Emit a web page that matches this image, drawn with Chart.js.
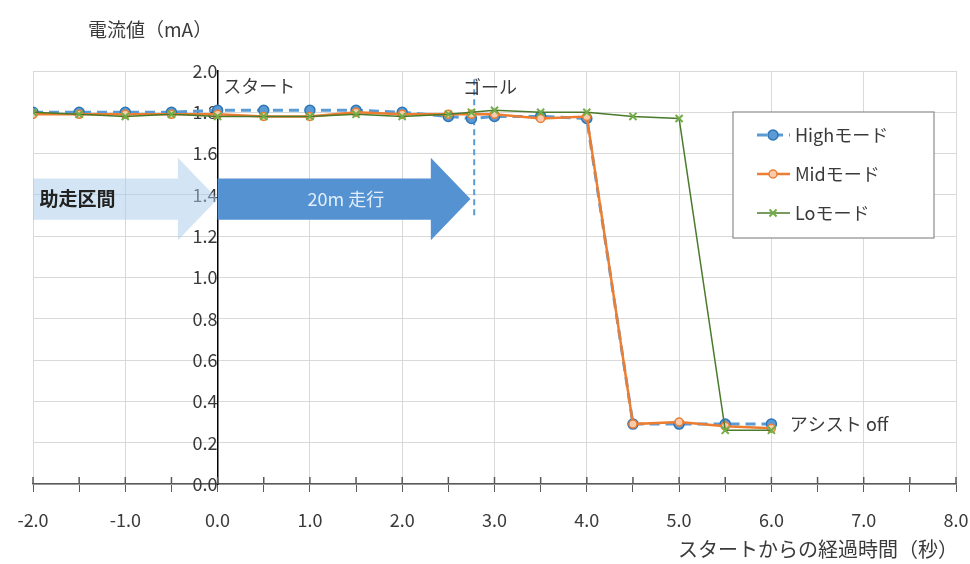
<!DOCTYPE html>
<html>
<head>
<meta charset="utf-8">
<script src="https://cdn.jsdelivr.net/npm/chart.js@4.4.1/dist/chart.umd.min.js"></script>
<style>
  html, body { margin: 0; padding: 0; background: #fff; }
  #wrap { width: 970px; height: 564px; position: relative; }
</style>
</head>
<body>
<div id="wrap"><canvas id="currentChart"></canvas></div>
<script>
// ---- DATA ----
const timeSec = [-2, -1.5, -1, -0.5, 0, 0.5, 1, 1.5, 2, 2.5, 2.75, 3, 3.5, 4, 4.5, 5, 5.5, 6];
const highMode = [1.80, 1.80, 1.80, 1.80, 1.81, 1.81, 1.81, 1.81, 1.80, 1.78, 1.77, 1.78, 1.78, 1.77, 0.29, 0.29, 0.29, 0.29];
const midMode  = [1.79, 1.79, 1.79, 1.79, 1.79, 1.78, 1.78, 1.80, 1.79, 1.79, 1.79, 1.79, 1.77, 1.78, 0.29, 0.30, 0.28, 0.27];
const loMode   = [1.80, 1.79, 1.78, 1.79, 1.78, 1.78, 1.78, 1.79, 1.78, 1.79, 1.80, 1.81, 1.80, 1.80, 1.78, 1.77, 0.26, 0.26];
const seriesNames = ['Highモード', 'Midモード', 'Loモード'];
const xMin = -2, xMax = 8, xStep = 0.5;
const yMin = 0, yMax = 2, yStep = 0.2;

// annotation positions (data units)
const runUpArrow = { from: -2, headAt: -0.43, to: 0, y: 1.38, shaft: 0.1, head: 0.2, label: '助走区間' };
const runArrow   = { from: 0, headAt: 2.31, to: 2.74, y: 1.38, shaft: 0.1, head: 0.2, label: '20m 走行' };
const goalX = 2.78;

const FONT = "'Noto Sans CJK JP', 'Noto Sans', sans-serif";
const TEXT = '#3a3a3a';

const toPoints = ys => timeSec.map((x, i) => ({ x, y: ys[i] }));

function drawArrow(ctx, xs, ys, a, fill) {
    const x0 = xs.getPixelForValue(a.from);
    const xh = xs.getPixelForValue(a.headAt);
    const x1 = xs.getPixelForValue(a.to);
    const yc = ys.getPixelForValue(a.y);
    const ySt = ys.getPixelForValue(a.y + a.shaft), ySb = ys.getPixelForValue(a.y - a.shaft);
    const yHt = ys.getPixelForValue(a.y + a.head), yHb = ys.getPixelForValue(a.y - a.head);
    ctx.beginPath();
    ctx.moveTo(x0, ySt);
    ctx.lineTo(xh, ySt);
    ctx.lineTo(xh, yHt);
    ctx.lineTo(x1, yc);
    ctx.lineTo(xh, yHb);
    ctx.lineTo(xh, ySb);
    ctx.lineTo(x0, ySb);
    ctx.closePath();
    ctx.fillStyle = fill;
    ctx.fill();
}

const decorPlugin = {
    id: 'decor',
    beforeDatasetsDraw(chart) {
        const { ctx, scales: { x, y } } = chart;
        ctx.save();
        drawArrow(ctx, x, y, runUpArrow, 'rgba(168, 203, 236, 0.5)');
        drawArrow(ctx, x, y, runArrow, '#5592d2');

        // arrow labels
        ctx.textBaseline = 'middle';
        ctx.font = `bold 19px ${FONT}`;
        ctx.fillStyle = '#222';
        ctx.textAlign = 'left';
        ctx.fillText(runUpArrow.label, x.getPixelForValue(-1.93), y.getPixelForValue(runUpArrow.y));
        ctx.font = `18px ${FONT}`;
        ctx.fillStyle = '#e4eef9';
        ctx.textAlign = 'center';
        ctx.fillText(runArrow.label, x.getPixelForValue(1.39), y.getPixelForValue(runArrow.y));

        // goal dashed line
        ctx.beginPath();
        ctx.setLineDash([6, 4]);
        ctx.strokeStyle = '#5B9BD5';
        ctx.lineWidth = 2;
        ctx.moveTo(x.getPixelForValue(goalX), y.getPixelForValue(1.96));
        ctx.lineTo(x.getPixelForValue(goalX), y.getPixelForValue(1.29));
        ctx.stroke();
        ctx.setLineDash([]);

        // tick marks above x axis line
        ctx.strokeStyle = '#595959';
        ctx.lineWidth = 1.5;
        const b = chart.chartArea.bottom;
        for (let v = xMin; v <= xMax + 1e-9; v += xStep) {
            const px = x.getPixelForValue(v);
            ctx.beginPath();
            ctx.moveTo(px, b - 7);
            ctx.lineTo(px, b);
            ctx.stroke();
        }
        ctx.restore();
    },
    afterDraw(chart) {
        const { ctx, scales: { x, y } } = chart;
        ctx.save();
        ctx.fillStyle = TEXT;
        ctx.textBaseline = 'middle';

        // labels in plot
        ctx.font = `18px ${FONT}`;
        ctx.textAlign = 'left';
        ctx.fillText('スタート', x.getPixelForValue(0.06), 86);
        ctx.textAlign = 'center';
        ctx.fillText('ゴール', x.getPixelForValue(2.95), 87);
        ctx.textAlign = 'left';
        ctx.fillText('アシスト off', x.getPixelForValue(6.2), y.getPixelForValue(0.29));

        // axis titles
        ctx.font = `19px ${FONT}`;
        ctx.textAlign = 'left';
        ctx.fillText('電流値（mA）', 88, 30);
        ctx.font = `20px ${FONT}`;
        ctx.textAlign = 'right';
        ctx.fillText('スタートからの経過時間（秒）', 958, 549);

        // legend box
        const lx = 733, ly = 112, lw = 201, lh = 126;
        ctx.fillStyle = '#fff';
        ctx.fillRect(lx, ly, lw, lh);
        ctx.strokeStyle = '#8c8c8c';
        ctx.lineWidth = 1.2;
        ctx.strokeRect(lx, ly, lw, lh);
        chart.data.datasets.forEach((ds, i) => {
            const yy = 135 + i * 39;
            ctx.beginPath();
            ctx.setLineDash(ds.borderDash || []);
            ctx.strokeStyle = ds.borderColor;
            ctx.lineWidth = ds.borderWidth;
            ctx.moveTo(757, yy);
            ctx.lineTo(790, yy);
            ctx.stroke();
            ctx.setLineDash([]);
            ctx.fillStyle = ds.pointBackgroundColor;
            ctx.strokeStyle = ds.pointBorderColor;
            ctx.lineWidth = ds.pointBorderWidth;
            Chart.helpers.drawPoint(ctx, { pointStyle: ds.pointStyle, radius: ds.pointRadius, borderWidth: ds.pointBorderWidth, rotation: 0 }, 773, yy);
            ctx.fillStyle = TEXT;
            ctx.font = `18px ${FONT}`;
            ctx.textAlign = 'left';
            ctx.fillText(seriesNames[i], 795, yy);
        });
        ctx.restore();
    }
};

new Chart(document.getElementById('currentChart'), {
    type: 'line',
    data: {
        datasets: [
            {
                label: seriesNames[0],
                data: toPoints(highMode),
                borderColor: '#5B9BD5',
                borderWidth: 3,
                borderDash: [10, 6],
                pointStyle: 'circle',
                pointRadius: 5,
                pointBackgroundColor: '#5B9BD5',
                pointBorderColor: '#2E75B6',
                pointBorderWidth: 1.5,
                order: 3
            },
            {
                label: seriesNames[1],
                data: toPoints(midMode),
                borderColor: '#ED7D31',
                borderWidth: 2.5,
                pointStyle: 'circle',
                pointRadius: 4,
                pointBackgroundColor: '#F8CBAD',
                pointBorderColor: '#ED7D31',
                pointBorderWidth: 1.5,
                order: 2
            },
            {
                label: seriesNames[2],
                data: toPoints(loMode),
                borderColor: '#4a7a2c',
                borderWidth: 1.5,
                pointStyle: 'crossRot',
                pointRadius: 5,
                pointBackgroundColor: '#70AD47',
                pointBorderColor: '#70AD47',
                pointBorderWidth: 2,
                order: 1
            }
        ]
    },
    options: {
        responsive: true,
        maintainAspectRatio: false,
        animation: false,
        layout: { padding: { top: 71, left: 33, right: 14, bottom: 0 } },
        plugins: {
            legend: { display: false },
            tooltip: { enabled: false }
        },
        scales: {
            x: {
                type: 'linear',
                min: xMin,
                max: xMax,
                afterFit: s => { s.height = 80; s.paddingLeft = 0; s.paddingRight = 0; },
                grid: {
                    color: c => Number.isInteger(c.tick.value) ? '#d9d9d9' : 'rgba(0,0,0,0)',
                    tickColor: '#595959',
                    tickLength: 8,
                    lineWidth: 1
                },
                border: { color: '#595959', width: 1.5 },
                ticks: {
                    stepSize: xStep,
                    autoSkip: false,
                    maxRotation: 0,
                    padding: 17,
                    color: TEXT,
                    font: { family: FONT, size: 18 },
                    callback: v => Number.isInteger(v) ? v.toFixed(1) : ''
                }
            },
            y: {
                type: 'linear',
                position: { x: 0 },
                min: yMin,
                max: yMax,
                grid: { color: '#d9d9d9', drawTicks: false },
                border: { color: '#000', width: 1.5 },
                ticks: {
                    stepSize: yStep,
                    padding: 10,
                    color: TEXT,
                    font: { family: FONT, size: 18 },
                    callback: v => v.toFixed(1)
                }
            }
        }
    },
    plugins: [decorPlugin]
});
</script>
</body>
</html>
